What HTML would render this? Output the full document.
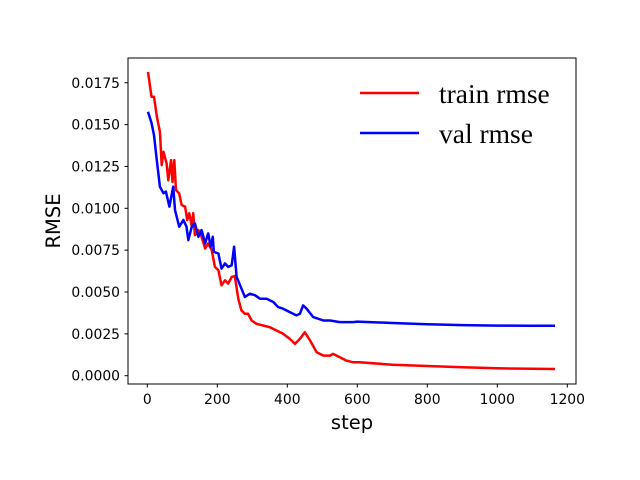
<!DOCTYPE html>
<html><head><meta charset="utf-8"><style>
html,body{margin:0;padding:0;background:#fff;}
svg{display:block;}
text{font-family:"DejaVu Sans","Liberation Sans",sans-serif;}
</style></head><body>
<svg id="chart" width="640" height="480" viewBox="0 0 640 480" xmlns="http://www.w3.org/2000/svg">
<rect width="640" height="480" fill="#fff"/>
<g id="plot"></g>
<rect x="128" y="58" width="448" height="326" fill="none" stroke="#000" stroke-width="1"/>
<g id="xticks"></g>
<g id="yticks"></g>
<text x="352" y="429" font-size="19.5" text-anchor="middle">step</text>
<text transform="translate(60,221) rotate(-90)" font-size="19.5" text-anchor="middle">RMSE</text>
<g>
<g>
<line x1="360" y1="93" x2="419" y2="93" stroke="#f00" stroke-width="2.5"/>
<text x="439" y="103" font-size="27.5" style="font-family:'Liberation Serif',serif">train rmse</text>
</g>
<g>
<line x1="360" y1="133" x2="419" y2="133" stroke="#00f" stroke-width="2.5"/>
<text x="439" y="143" font-size="27.5" style="font-family:'Liberation Serif',serif">val rmse</text>
</g>
</g>
</svg>
<script>
const trainSteps=[2,12,19,27,36,41,46,55,60,68,72,77,82,91,98,108,114,120,127,131,136,146,155,165,174,184,193,203,212,222,231,241,250,260,269,279,288,298,312,331,350,369,388,407,422,436,450,465,484,503,522,531,550,569,588,607,700,800,900,1000,1100,1165];
const trainVals=[0.01815,0.01666,0.01666,0.0155,0.01457,0.01258,0.01338,0.01268,0.01168,0.01288,0.01158,0.01288,0.01109,0.01089,0.0102,0.0101,0.0093,0.0097,0.0089,0.0097,0.0084,0.0087,0.0083,0.0076,0.0079,0.0075,0.0065,0.0063,0.0054,0.0057,0.0055,0.0059,0.00595,0.0046,0.0039,0.0037,0.0037,0.0033,0.0031,0.0030,0.0029,0.0027,0.0025,0.0022,0.0019,0.0022,0.0026,0.0021,0.0014,0.0012,0.0012,0.0013,0.0011,0.0009,0.0008,0.0008,0.00066,0.00058,0.0005,0.00044,0.00041,0.0004];
const valSteps=[2,12,19,27,36,46,53,63,74,79,91,103,112,117,127,136,146,155,165,174,181,187,190,203,212,222,231,241,248,255,265,279,293,308,322,341,360,374,388,407,426,436,445,455,474,503,522,550,588,600,700,800,900,1000,1100,1165];
const valVals=[0.01577,0.0151,0.01437,0.01288,0.01129,0.0109,0.011,0.0101,0.01129,0.0099,0.0089,0.0093,0.0089,0.0081,0.0089,0.0091,0.0083,0.0087,0.0079,0.0085,0.0077,0.0083,0.0074,0.0073,0.0064,0.0067,0.0065,0.0066,0.0077,0.0059,0.0054,0.0047,0.0049,0.0048,0.0046,0.0046,0.0044,0.0041,0.0040,0.0038,0.0036,0.0037,0.0042,0.0040,0.0035,0.0033,0.0033,0.0032,0.0032,0.00323,0.00315,0.00307,0.00302,0.00299,0.00298,0.00298];
const xTickVals=[0,200,400,600,800,1000,1200];
const xTickLabels=["0","200","400","600","800","1000","1200"];
const yTickVals=[0,0.0025,0.005,0.0075,0.01,0.0125,0.015,0.0175];
const yTickLabels=["0.0000","0.0025","0.0050","0.0075","0.0100","0.0125","0.0150","0.0175"];

const NS="http://www.w3.org/2000/svg";
function xs(v){return 147.3+v*0.35;}
function ys(v){return 375.7-v/0.0025*41.85;}
const plot=document.getElementById('plot');
function series(steps,vals,color,name){
  const p=document.createElementNS(NS,'polyline');
  p.setAttribute('points',steps.map((s,i)=>xs(s).toFixed(1)+','+ys(vals[i]).toFixed(1)).join(' '));
  p.setAttribute('fill','none');p.setAttribute('stroke',color);p.setAttribute('stroke-width','2.5');
  p.setAttribute('stroke-linejoin','round');
  
  
  plot.appendChild(p);
}
series(trainSteps,trainVals,'#f00','train-rmse-line');
series(valSteps,valVals,'#00f','val-rmse-line');
const xg=document.getElementById('xticks');
xTickVals.forEach((v,i)=>{
  const x=xs(v);
  const l=document.createElementNS(NS,'line');
  l.setAttribute('x1',x);l.setAttribute('x2',x);l.setAttribute('y1',384);l.setAttribute('y2',387.5);l.setAttribute('stroke','#000');
  
  
  xg.appendChild(l);
  const t=document.createElementNS(NS,'text');
  t.setAttribute('x',x);t.setAttribute('y',404);t.setAttribute('font-size','13.9');t.setAttribute('text-anchor','middle');
  t.textContent=xTickLabels[i];
  
  
  xg.appendChild(t);
});
const yg=document.getElementById('yticks');
yTickVals.forEach((v,i)=>{
  const y=ys(v);
  const l=document.createElementNS(NS,'line');
  l.setAttribute('x1',124.5);l.setAttribute('x2',128);l.setAttribute('y1',y);l.setAttribute('y2',y);l.setAttribute('stroke','#000');
  
  
  yg.appendChild(l);
  const t=document.createElementNS(NS,'text');
  t.setAttribute('x',120);t.setAttribute('y',y+5);t.setAttribute('font-size','13.9');t.setAttribute('text-anchor','end');
  t.textContent=yTickLabels[i];
  
  
  yg.appendChild(t);
});
</script>
</body></html>
